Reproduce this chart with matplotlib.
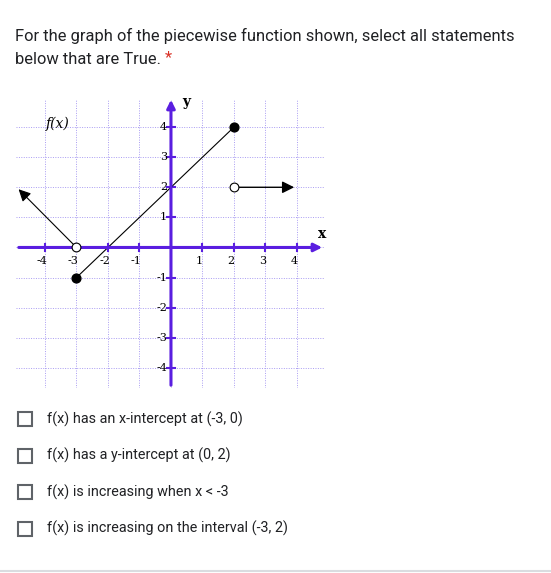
import matplotlib.pyplot as plt
from matplotlib.patches import Rectangle

W, H = 551, 573
question = ["For the graph of the piecewise function shown, select all statements",
            "below that are True."]
options = ["f(x) has an x-intercept at (-3, 0)",
           "f(x) has a y-intercept at (0, 2)",
           "f(x) is increasing when x < -3",
           "f(x) is increasing on the interval (-3, 2)"]
ticks = [-4, -3, -2, -1, 1, 2, 3, 4]

# piece data
left_x, left_y = [-3, -4.9], [0, 2]
mid_x, mid_y = [-3, 2], [-1, 4]
right_x, right_y = [2, 4], [2, 2]
closed_x, closed_y = [-3, 2], [-1, 4]
open_x, open_y = [-3, 2], [0, 2]

fig = plt.figure(figsize=(W / 100, H / 100), dpi=100)
plt.rcParams['font.family'] = ['Roboto', 'DejaVu Sans']

def fx(px):
    return px / W

def fy(py):
    return 1 - py / H

fig.text(fx(15), fy(36), question[0], fontsize=11.9, color='#202124', va='center')
t2 = fig.text(fx(15), fy(60), question[1], fontsize=11.9, color='#202124', va='center')
fig.text(fx(165), fy(58), "*", fontsize=11.9, color='#d93025', va='center')

for i, opt in enumerate(options):
    yc = 419 + i * 36.5
    fig.patches.append(Rectangle((fx(18), fy(yc + 7)), 14 / W, 14 / H, transform=fig.transFigure,
                                 fill=False, edgecolor='#5f6368', lw=1.5))
    fig.text(fx(47), fy(yc), opt, fontsize=10.4, color='#202124', va='center')

fig.add_artist(plt.Line2D([0, 1], [fy(571), fy(571)], color='#dadce0', lw=1.5))

# graph axes
x0, x1, y0, y1 = 16, 325, 97, 388
ax = fig.add_axes([fx(x0), fy(y1), (x1 - x0) / W, (y1 - y0) / H])
ax.set_xlim(-4.92, 4.89)
ax.set_ylim(-4.67, 5.0)
ax.axis('off')
grid = '#a99cf2'
for v in range(-4, 5):
    ax.plot([v, v], [-4.67, 4.9], color=grid, lw=0.7, ls=(0, (1, 1.5)))
    ax.plot([-4.92, 4.89], [v, v], color=grid, lw=0.7, ls=(0, (1, 1.5)))
axis_c = '#5a1ee0'
ax.annotate('', xy=(4.89, 0), xytext=(-4.92, 0),
            arrowprops=dict(arrowstyle='-|>', color=axis_c, lw=2.2, mutation_scale=12))
ax.annotate('', xy=(0, 5.0), xytext=(0, -4.67),
            arrowprops=dict(arrowstyle='-|>', color=axis_c, lw=2.2, mutation_scale=12))
for t in ticks:
    ax.plot([t, t], [-0.12, 0.12], color=axis_c, lw=1.5)
    ax.plot([-0.12, 0.12], [t, t], color=axis_c, lw=1.5)
    ax.text(t - 0.1, -0.3, str(t), fontsize=8, family='DejaVu Serif', ha='center', va='top')
    ax.text(-0.12, t, str(t), fontsize=8, family='DejaVu Serif', ha='right', va='center')
ax.text(4.8, 0.2, "x", fontsize=10, family='DejaVu Serif', weight='bold', ha='center', va='bottom')
ax.text(0.5, 4.6, "y", fontsize=10, family='DejaVu Serif', weight='bold', ha='center', va='bottom')
ax.text(-3.6, 4.1, "f(x)", fontsize=10, family='DejaVu Serif', style='italic', ha='center', va='center')

ax.plot(mid_x, mid_y, color='black', lw=0.8)
ax.annotate('', xy=(left_x[1], left_y[1]), xytext=(left_x[0], left_y[0]),
            arrowprops=dict(arrowstyle='-|>', color='black', lw=0.8, mutation_scale=18))
ax.annotate('', xy=(right_x[1], right_y[1]), xytext=(right_x[0], right_y[0]),
            arrowprops=dict(arrowstyle='-|>', color='black', lw=1.0, mutation_scale=18))
ax.scatter(closed_x, closed_y, s=40, color='black', zorder=5)
ax.scatter(open_x, open_y, s=40, facecolor='white', edgecolor='black', lw=0.8, zorder=5)

fig.savefig('out.png', dpi=100)
